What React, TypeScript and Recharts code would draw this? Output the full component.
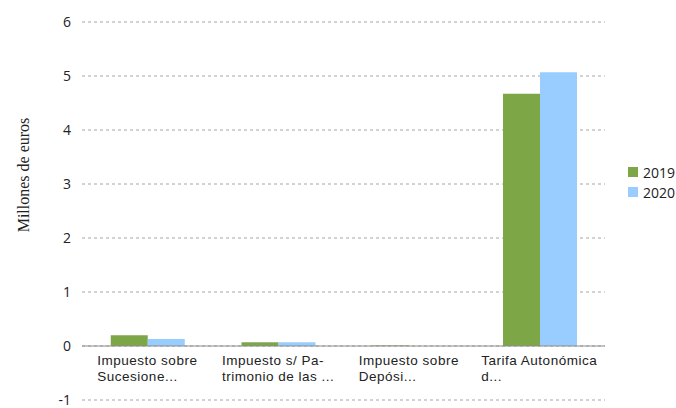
import { BarChart, Bar, XAxis, YAxis, CartesianGrid, ReferenceLine } from 'recharts'

const categories = [
  'Impuesto sobre\nSucesione...',
  'Impuesto s/ Pa-\ntrimonio de las ...',
  'Impuesto sobre\nDepósi...',
  'Tarifa Autonómica\nd...',
]
const values2019 = [0.2, 0.07, 0.01, 4.67]
const values2020 = [0.13, 0.07, 0.002, 5.07]
const yTicks = [-1, 0, 1, 2, 3, 4, 5, 6]
const seriesNames = ['2019', '2020']

const COLORS = ['#7DA647', '#99CCFF']
const W = 676
const H = 408
const TOP = 22
const BOTTOM = 7
const Y_MIN = -1
const Y_MAX = 6
const FONT = '"Open Sans", sans-serif'
const LABEL_FONT = '"Liberation Sans", Arial, sans-serif'
const LABEL_SIZE = 13.5
const LABEL_SPACING = 0.5

const data = categories.map((name, i) => ({
  name,
  '2019': values2019[i],
  '2020': values2020[i],
}))

let ctx: CanvasRenderingContext2D | null = null
function measure(s: string) {
  if (!ctx) ctx = document.createElement('canvas').getContext('2d')
  if (!ctx) return s.length * 7
  ctx.font = `${LABEL_SIZE}px ${LABEL_FONT}`
  return ctx.measureText(s).width + s.length * LABEL_SPACING
}

// y pixel of the zero line, so the category labels sit right under it
const zeroY = TOP + ((Y_MAX - 0) / (Y_MAX - Y_MIN)) * (H - TOP - BOTTOM - 1)

function CategoryTick(props: any) {
  const { x, payload } = props
  const lines = String(payload.value).split('\n')
  const w = Math.max(...lines.map(measure))
  return (
    <g>
      {lines.map((l, i) => (
        <text key={i} x={x - w / 2} y={zeroY + 19 + i * 16} textAnchor="start" fontFamily={LABEL_FONT}
          fontSize={LABEL_SIZE} letterSpacing={LABEL_SPACING} fill="#222">
          {l}
        </text>
      ))}
    </g>
  )
}

function YLabel(props: any) {
  const { viewBox } = props
  const cx = viewBox.x + 23
  const cy = viewBox.y + 153
  return (
    <text x={cx} y={cy} transform={`rotate(-90, ${cx}, ${cy})`} textAnchor="middle" dominantBaseline="central"
      fontFamily='"Liberation Serif", serif' fontSize={16} fill="#222">
      Millones de euros
    </text>
  )
}

export default function App() {
  return (
    <div style={{ position: 'absolute', left: 0, top: 0, width: W, height: H, background: '#fff' }}>
      <BarChart width={W} height={H} data={data} margin={{ top: TOP, right: 71, bottom: BOTTOM, left: 0 }}
        barCategoryGap="22%" barGap={0}>
        <CartesianGrid vertical={false} strokeDasharray="3 3" stroke="#a6a6a6" />
        <XAxis dataKey="name" height={1} axisLine={false} tickLine={false} tick={<CategoryTick />} interval={0} />
        <YAxis width={82} domain={[Y_MIN, Y_MAX]} ticks={yTicks} axisLine={false} tickLine={false} tickMargin={5}
          tick={{ fontFamily: FONT, fontSize: 14, fill: '#222' }} label={<YLabel />} />
        <ReferenceLine y={0} stroke="#8c8c8c" strokeWidth={1} />
        <Bar dataKey="2019" fill={COLORS[0]} isAnimationActive={false} />
        <Bar dataKey="2020" fill={COLORS[1]} isAnimationActive={false} />
      </BarChart>
      <div style={{ position: 'absolute', left: 628, top: 162, fontFamily: FONT, fontSize: 14, color: '#222' }}>
        {seriesNames.map((n, i) => (
          <div key={n} style={{ display: 'flex', alignItems: 'center', height: 20 }}>
            <span style={{ width: 10, height: 10, background: COLORS[i], marginRight: 5, display: 'inline-block' }} />
            {n}
          </div>
        ))}
      </div>
    </div>
  )
}
